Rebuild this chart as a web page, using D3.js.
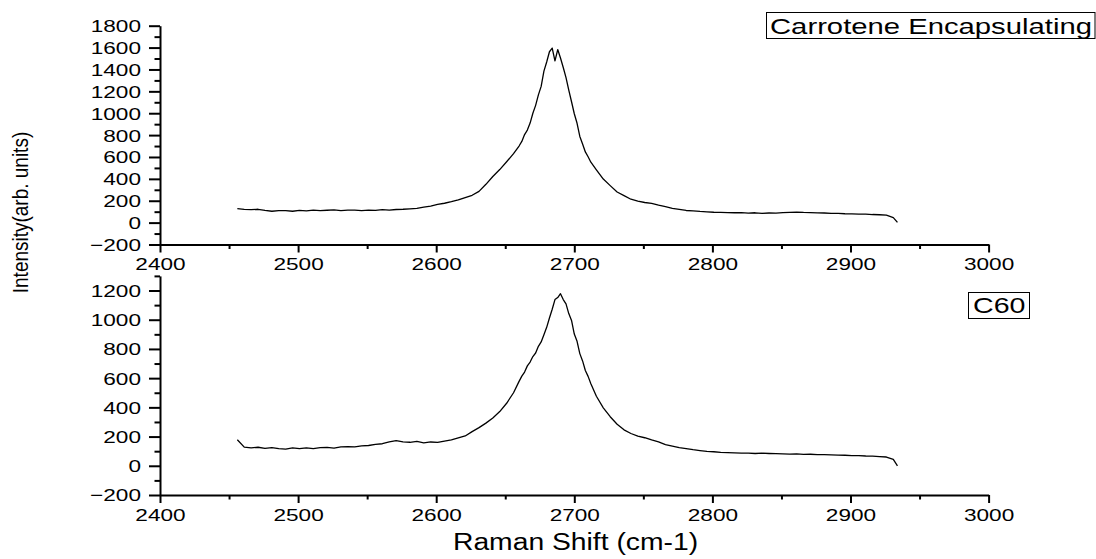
<!DOCTYPE html>
<html>
<head>
<meta charset="utf-8">
<script src="https://cdn.jsdelivr.net/npm/d3@7"></script>
<style>
  html, body { margin: 0; padding: 0; background: #fff; }
  svg { display: block; }
  text { font-family: "Liberation Sans", Arial, sans-serif; fill: #000; }
</style>
</head>
<body>
<svg id="chart" width="1096" height="559"></svg>
<script>
// ---- data ----
const ramanShift = [
  2456,2461,2466,2471,2476,2481,2486,2491,2496,2501,
  2506,2511,2516,2521,2526,2531,2536,2541,2546,2551,
  2556,2561,2566,2571,2576,2581,2586,2591,2596,2601,
  2606,2611,2616,2621,2626,2631,2636,2641,2646,2651,
  2656,
  2660,2662,2664,2666,2668,2670,2672,2674,2676,2678,
  2680,2682,2684,2686,2688,2690,2692,2694,2696,2698,
  2700,2702,2704,2706,2708,2710,2712,
  2716,2721,2726,2731,2736,2741,2746,2751,2756,2761,
  2766,2771,2776,2781,2786,2791,2796,2801,2806,2811,
  2816,2821,2826,2831,2836,2841,2846,2851,2856,2861,
  2866,2871,2876,2881,2886,2891,2896,2901,2906,2911,
  2916,2921,2926,2931,2934
];
const carroteneIntensity = [
  127,121,118,122,112,104,109,110,104,112,
  108,114,109,113,117,110,114,115,109,115,
  112,118,114,120,122,126,131,142,151,166,
  177,191,207,229,250,286,350,422,485,556,
  630,
  700,742,805,846,910,1000,1072,1168,1245,1385,
  1468,1562,1595,1478,1582,1505,1418,1325,1212,1105,
  995,908,788,718,646,602,552,
  482,398,338,280,247,214,197,184,176,160,
  146,131,121,111,107,102,99,95,94,91,
  90,92,87,90,85,88,87,91,93,96,
  93,92,89,88,85,84,81,80,77,78,
  74,72,68,46,2
];
const c60Intensity = [
  178,128,122,127,119,125,117,114,122,117,
  123,118,125,126,121,129,131,130,137,139,
  146,151,163,172,164,161,167,157,163,160,
  169,177,191,204,234,261,292,327,371,428,
  500,
  578,614,642,684,710,748,772,818,848,897,
  948,1012,1072,1138,1152,1178,1138,1108,1042,995,
  902,852,768,718,652,612,562,
  476,397,336,284,246,221,203,192,177,164,
  145,135,124,118,110,104,98,96,92,90,
  89,87,86,84,86,84,83,82,80,81,
  78,79,76,76,75,73,72,70,70,67,
  66,63,60,44,0
];
const xTickValues = [2400,2500,2600,2700,2800,2900,3000];
const xMinorValues = [2450,2550,2650,2750,2850,2950];
const topYTickValues = [-200,0,200,400,600,800,1000,1200,1400,1600,1800];
const topYMinorValues = [-100,100,300,500,700,900,1100,1300,1500,1700];
const botYTickValues = [-200,0,200,400,600,800,1000,1200];
const botYMinorValues = [-100,100,300,500,700,900,1100,1300];
const seriesLabels = ["Carrotene Encapsulating", "C60"];
const xTitle = "Raman Shift (cm-1)";
const yTitle = "Intensity(arb. units)";

// ---- drawing ----
const svg = d3.select("#chart");
const SX = 1.33; // horizontal stretch of text in the reference

const x = d3.scaleLinear().domain([2400, 3000]).range([160, 988.6]);
const yTop = d3.scaleLinear().domain([-200, 1800]).range([244.5, 25.7]);
const yBot = d3.scaleLinear().domain([-200, 1300]).range([495, 275.9]);

function drawPanel(yScale, majorY, minorY, values) {
  const xAxisY = yScale.range()[0];
  svg.append("g")
    .attr("transform", `translate(0,${xAxisY})`)
    .call(d3.axisBottom(x).tickValues(xMinorValues).tickSize(4.5).tickFormat(""))
    .call(g => g.select(".domain").remove())
    .call(g => g.selectAll("line").attr("stroke-width", 2));
  const gx = svg.append("g")
    .attr("transform", `translate(0,${xAxisY})`)
    .call(d3.axisBottom(x).tickValues(xTickValues).tickSize(8).tickSizeOuter(0).tickFormat(d3.format("d")));
  gx.select(".domain").attr("stroke-width", 2);
  gx.selectAll("line").attr("stroke-width", 2);
  gx.selectAll("text")
    .attr("y", 26).attr("dy", null)
    .attr("font-size", 17)
    .attr("transform", `scale(${SX},1)`);

  svg.append("g")
    .attr("transform", `translate(160,0)`)
    .call(d3.axisLeft(yScale).tickValues(minorY).tickSize(5.5).tickFormat(""))
    .call(g => g.select(".domain").remove())
    .call(g => g.selectAll("line").attr("stroke-width", 2));
  const gy = svg.append("g")
    .attr("transform", `translate(160,0)`)
    .call(d3.axisLeft(yScale).tickValues(majorY).tickSize(11).tickSizeOuter(0).tickFormat(d3.format("d")));
  gy.select(".domain").attr("stroke-width", 2);
  gy.selectAll("line").attr("stroke-width", 2);
  gy.selectAll("text")
    .attr("x", -19 / SX)
    .attr("dy", "0.35em")
    .attr("font-size", 17)
    .attr("transform", `scale(${SX},1)`);

  const line = d3.line()
    .x((d, i) => x(ramanShift[i]))
    .y(d => yScale(d));
  svg.append("path")
    .datum(values)
    .attr("fill", "none")
    .attr("stroke", "#000")
    .attr("stroke-width", 1.3)
    .attr("stroke-linejoin", "round")
    .attr("d", line);
}

drawPanel(yTop, topYTickValues, topYMinorValues, carroteneIntensity);
drawPanel(yBot, botYTickValues, botYMinorValues, c60Intensity);

function boxLabel(txt, x0, y0, w, h, tx, ty, fs) {
  svg.append("rect")
    .attr("x", x0).attr("y", y0).attr("width", w).attr("height", h)
    .attr("fill", "none").attr("stroke", "#000").attr("stroke-width", 1);
  svg.append("text")
    .attr("transform", `translate(${tx},${ty}) scale(${SX},1)`)
    .attr("font-size", fs)
    .text(txt);
}
boxLabel(seriesLabels[0], 766.5, 12.5, 328.5, 26, 770, 33.5, 22);
boxLabel(seriesLabels[1], 968.5, 292.5, 61, 26, 973, 313, 21.5);

svg.append("text")
  .attr("transform", `translate(575.5,550) scale(1.23,1)`)
  .attr("text-anchor", "middle")
  .attr("font-size", 23)
  .text(xTitle);
svg.append("text")
  .attr("transform", `translate(28,212.5) rotate(-90) scale(1,1.12)`)
  .attr("text-anchor", "middle")
  .attr("font-size", 19)
  .text(yTitle);
</script>
</body>
</html>
